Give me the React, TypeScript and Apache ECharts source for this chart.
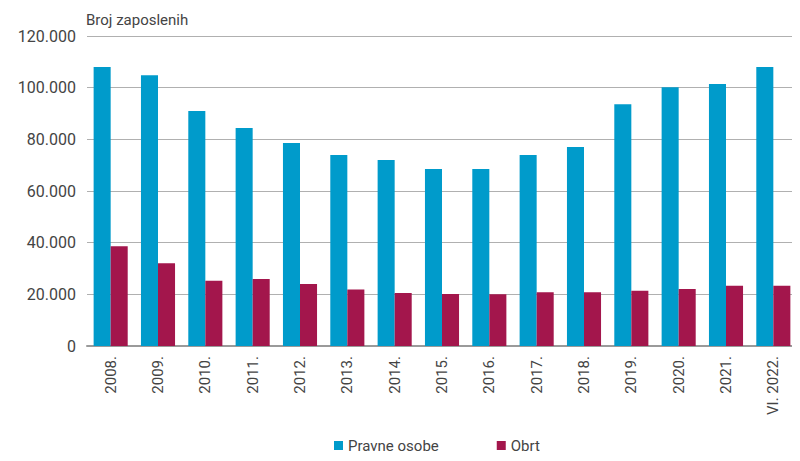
import React, { useEffect, useRef } from "react";
import * as echarts from "echarts";

const categories = ["2008.", "2009.", "2010.", "2011.", "2012.", "2013.", "2014.", "2015.", "2016.", "2017.", "2018.", "2019.", "2020.", "2021.", "VI. 2022."];
const pravneOsobe = [108000, 104800, 91000, 84400, 78600, 73900, 72000, 68500, 68500, 73900, 77000, 93600, 100200, 101400, 108000];
const obrt = [38600, 32000, 25300, 25900, 24000, 21900, 20500, 20100, 20000, 20800, 20800, 21400, 22100, 23300, 23300];
const yTicks = [0, 20000, 40000, 60000, 80000, 100000, 120000];

const FONT = "Roboto, 'Noto Sans', sans-serif";

function fmt(v: number): string {
  if (v === 0) return "0";
  const s = String(v);
  return s.replace(/\B(?=(\d{3})+(?!\d))/g, ".");
}

export default function App() {
  const ref = useRef<HTMLDivElement>(null);
  useEffect(() => {
    if (!ref.current) return;
    const chart = echarts.init(ref.current, null, { renderer: "svg" });
    chart.setOption({
      animation: false,
      textStyle: { fontFamily: FONT },
      title: {
        text: "Broj zaposlenih",
        left: 73,
        top: -1,
        textStyle: { fontSize: 15, fontWeight: "normal", color: "#444", fontFamily: FONT },
      },
      legend: {
        bottom: 3,
        left: 321,
        itemWidth: 9,
        itemHeight: 9,
        itemGap: 58,
        icon: "rect",
        textStyle: { fontSize: 15, color: "#444", fontFamily: FONT },
        data: ["Pravne osobe", "Obrt"],
      },
      grid: { left: 79, right: 3, top: 28, bottom: 115, containLabel: false },
      xAxis: {
        type: "category",
        data: categories,
        axisLine: { lineStyle: { color: "#9a9a9a", width: 2 } },
        axisTick: { lineStyle: { color: "#9a9a9a", width: 2 }, length: 5 },
        axisLabel: { rotate: 90, fontSize: 15, color: "#444", margin: 10, fontFamily: FONT },
      },
      yAxis: {
        type: "value",
        min: 0,
        max: 120000,
        interval: 20000,
        axisLine: { show: false },
        axisTick: { show: false },
        splitLine: { lineStyle: { color: "#b0b0b0", width: 1 } },
        axisLabel: {
          fontSize: 16,
          color: "#444",
          margin: 11,
          fontFamily: FONT,
          formatter: (v: number) => (yTicks.includes(v) ? fmt(v) : ""),
        },
      },
      series: [
        {
          name: "Pravne osobe",
          type: "bar",
          data: pravneOsobe,
          itemStyle: { color: "#009BCB" },
          barGap: "0%",
          barCategoryGap: "28%",
        },
        {
          name: "Obrt",
          type: "bar",
          data: obrt,
          itemStyle: { color: "#A3164C" },
          barGap: "0%",
          barCategoryGap: "28%",
        },
      ],
    });
    return () => chart.dispose();
  }, []);
  return <div ref={ref} style={{ width: 792, height: 453 }} />;
}
